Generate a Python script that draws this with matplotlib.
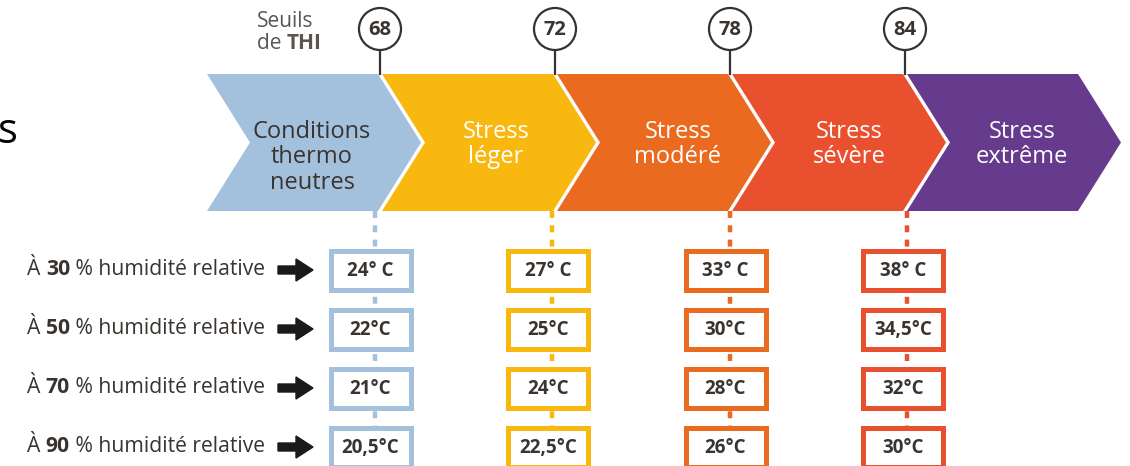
import matplotlib
matplotlib.use('Agg')
import matplotlib.pyplot as plt
from matplotlib.patches import Polygon, Circle, Rectangle

plt.rcParams['font.family'] = ['Open Sans', 'DejaVu Sans']
plt.rcParams['lines.scale_dashes'] = False

# data
stages = ["Conditions\nthermo\nneutres", "Stress\nléger", "Stress\nmodéré",
          "Stress\nsévère", "Stress\nextrême"]
thresholds = [68, 72, 78, 84]
humidity = [30, 50, 70, 90]
# temperature (°C) per humidity row, one value per threshold
temps = [
    [24, 27, 33, 38],
    [22, 25, 30, 34.5],
    [21, 24, 28, 32],
    [20.5, 22.5, 26, 30],
]

stage_colors = ['#a3c1dc', '#f8b80f', '#ea6a1f', '#e9502e', '#663a8c']
stage_text = ['#3a3430', 'white', 'white', 'white', 'white']
dark = '#3a3430'

W, H = 1130, 466
fig = plt.figure(figsize=(W / 100, H / 100), dpi=100)
ax = fig.add_axes([0, 0, 1, 1])
ax.set_xlim(0, W)
ax.set_ylim(H, 0)
ax.axis('off')
renderer = fig.canvas.get_renderer()


def pieces(x, y, parts, size, color):
    # draw a run of text pieces with different weights on one baseline
    for s, weight in parts:
        t = ax.text(x, y, s, fontsize=size, fontweight=weight, color=color,
                    ha='left', va='baseline')
        x += t.get_window_extent(renderer).width


# chevrons
top, bot = 74, 211
mid = (top + bot) / 2
depth = 43
left0, step, width = 207, 175, 171
text_dx = [105, 114, 121, 117, 115]
for i, name in enumerate(stages):
    L = left0 + i * step
    R = L + width
    pts = [(L, top), (R, top), (R + depth, mid), (R, bot), (L, bot), (L + depth, mid)]
    ax.add_patch(Polygon(pts, closed=True, facecolor=stage_colors[i], edgecolor='none', zorder=2))
    ax.text(L + text_dx[i], 120, name, ha='center', va='top', fontsize=17,
            color=stage_text[i], linespacing=1.07, zorder=3)

# threshold markers
cy, r = 29, 21
for i, th in enumerate(thresholds):
    x = left0 + i * step + width + 2
    ax.plot([x, x], [cy + r, top], color='#333333', lw=1.6, zorder=1)
    ax.add_patch(Circle((x, cy), r, facecolor='white', edgecolor='#333333', lw=1.6, zorder=3))
    ax.text(x, cy + 1, str(th), ha='center', va='center', fontsize=14.5,
            fontweight='bold', color=dark, zorder=4)

ax.text(257, 27, "Seuils", fontsize=15, color='#5a5550', ha='left', va='baseline')
pieces(257, 49, [("de ", 'normal'), ("THI", 'bold')], 15, '#5a5550')

# cut-off slide title letter
ax.text(-2, 143, "s", fontsize=30, color='black', ha='left', va='baseline')

# humidity rows
row0, row_step = 270, 59
col0, col_step = 370.5, 177.5
bw, bh = 80, 39
for c in range(len(thresholds)):
    cx = col0 + c * col_step
    ln, = ax.plot([cx + 4, cx + 4], [bot, H], color=stage_colors[c], lw=3.2,
                  dash_capstyle='butt', zorder=1)
    ln.set_dashes((5.0, 5.3))

for r_i, hum in enumerate(humidity):
    yc = row0 + r_i * row_step
    pieces(27, yc + 5, [("À ", 'normal'), (str(hum), 'bold'), (" % humidité relative", 'normal')],
           15.2, dark)
    ax.arrow(278, yc, 35, 0, width=8, head_width=22, head_length=17,
             length_includes_head=True, color='#1a1a1a', zorder=3)
    for c in range(len(thresholds)):
        cx = col0 + c * col_step
        ax.add_patch(Rectangle((cx - bw / 2, yc - bh / 2), bw, bh, facecolor='white',
                               edgecolor=stage_colors[c], lw=3.6, zorder=3))
        val = f"{temps[r_i][c]:g}".replace('.', ',')
        label = val + ("° C" if r_i == 0 else "°C")
        ax.text(cx, yc + 1, label, ha='center', va='center', fontsize=13.5,
                fontweight='bold', color=dark, zorder=4)

fig.savefig('out.png', dpi=100)
